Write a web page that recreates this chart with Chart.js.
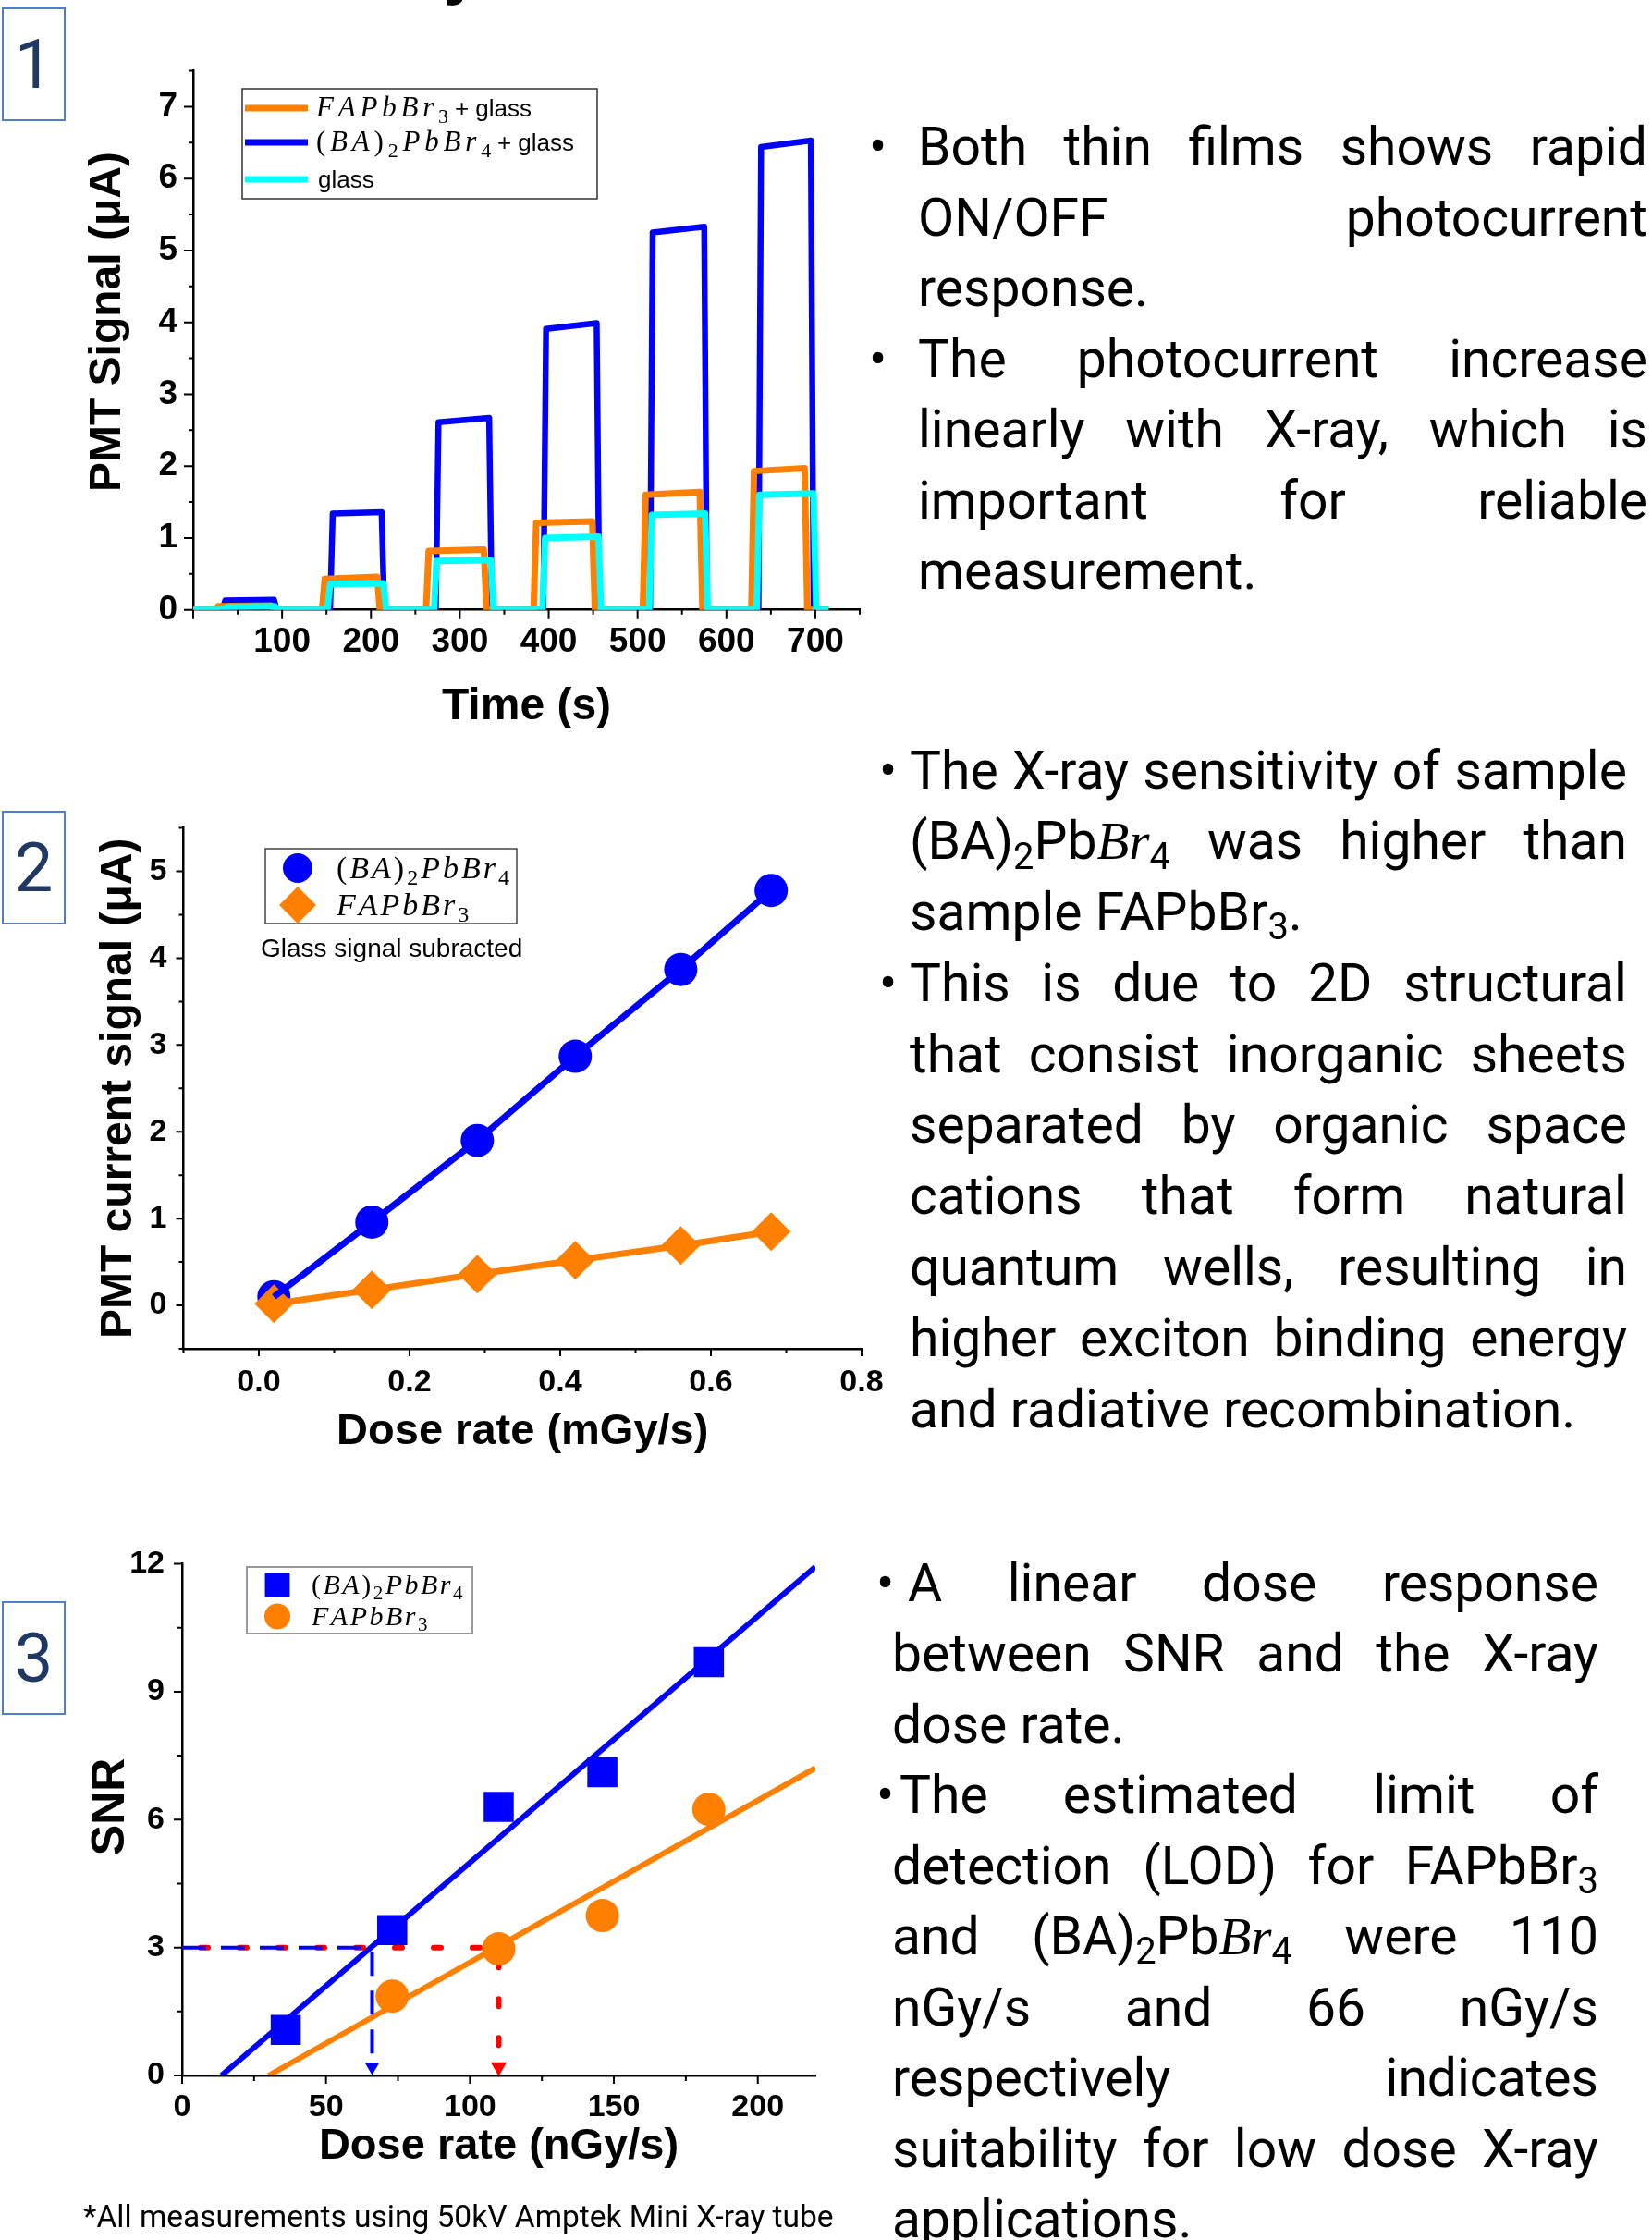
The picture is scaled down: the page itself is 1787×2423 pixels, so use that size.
<!DOCTYPE html>
<html>
<head>
<meta charset="utf-8">
<title>X-ray photocurrent response of perovskite thin films</title>
<script src="https://cdn.jsdelivr.net/npm/chart.js@4.4.1/dist/chart.umd.min.js"></script>
<style>
  html, body { margin: 0; padding: 0; background: #fff; }
  #page { position: relative; width: 1787px; height: 2423px; overflow: hidden; background: #fff; font-family: Roboto, sans-serif; }
  #page canvas { position: absolute; left: 0; }
  .tag { position: absolute; left: 2px; width: 69px; box-sizing: border-box; border: 2px solid #4f7fc8; color: #1f3864; font: 74px Roboto, sans-serif; text-align: center; z-index: 2; }
  .blk { position: absolute; font-size: 57px; color: #000; }
  .ln { position: relative; white-space: nowrap; }
  .ln.j { display: flex; justify-content: space-between; }
  .bul { position: absolute; }
  .m { font-family: "Liberation Serif", serif; font-style: italic; }
  .sb { font-size: 0.7em; position: relative; top: 0.26em; line-height: 0; }
  .note { position: absolute; left: 90px; top: 2378px; font: 33.5px Roboto, sans-serif; line-height: 40px; color: #000; }
  .cut { position: absolute; left: 480px; top: -68px; font: bold 70px "Liberation Sans", sans-serif; line-height: 1; }
</style>
</head>
<body>
<div id="page">
  <div class="cut">y</div>
  <canvas id="chartTime" width="960" height="800" style="top:0px"></canvas>
  <canvas id="chartDose" width="960" height="780" style="top:840px"></canvas>
  <canvas id="chartSnr" width="960" height="783" style="top:1640px"></canvas>
  <div class="tag" style="top:8px;height:123px;line-height:119px">1</div>
  <div class="tag" style="top:877px;height:123px;line-height:119px">2</div>
  <div class="tag" style="top:1732px;height:123px;line-height:119px">3</div>
  <div class="note">*All measurements using 50kV Amptek Mini X-ray tube</div>
</div>

<script>
// ---- Panel 1: PMT signal vs time, X-ray ON/OFF pulses ----
const timeStart = 0;
const timeEnd = 715;
const riseTime = 3;
const timeTicks = [100, 200, 300, 400, 500, 600, 700];
const signalTicks = [0, 1, 2, 3, 4, 5, 6, 7];

const faOn   = [25, 145, 262, 383, 506, 628];
const faOff  = [88, 207, 327, 449, 570, 688];
const faLvl0 = [0.05, 0.43, 0.82, 1.21, 1.60, 1.93];
const faLvl1 = [0.06, 0.46, 0.84, 1.23, 1.64, 1.97];

const baOn   = [33, 154, 273, 394, 514, 636];
const baOff  = [91, 212, 333, 454, 575, 695];
const baLvl0 = [0.13, 1.34, 2.61, 3.91, 5.25, 6.44];
const baLvl1 = [0.14, 1.36, 2.67, 3.99, 5.33, 6.53];

const glOn   = [35, 151, 271, 393, 513, 634];
const glOff  = [92, 214, 335, 456, 576, 698];
const glLvl0 = [0.04, 0.36, 0.68, 1.00, 1.32, 1.60];
const glLvl1 = [0.05, 0.37, 0.69, 1.02, 1.34, 1.62];

// ---- Panel 2: signal vs dose rate (glass subtracted) ----
const doseMGy  = [0.02, 0.15, 0.29, 0.42, 0.56, 0.68];
const signalBA = [0.10, 0.96, 1.90, 2.87, 3.87, 4.78];
const signalFA = [0.02, 0.18, 0.36, 0.52, 0.69, 0.85];
const doseMGyTicks = [0.0, 0.2, 0.4, 0.6, 0.8];
const currentTicks = [0, 1, 2, 3, 4, 5];

// ---- Panel 3: SNR vs dose rate ----
const doseBA = [36, 73, 110, 146, 183];
const snrBA  = [1.07, 3.41, 6.30, 7.11, 9.69];
const doseFA = [73, 110, 146, 183];
const snrFA  = [1.86, 2.97, 3.75, 6.24];
const fitBAx = [13.7, 220];
const fitBAy = [0, 11.93];
const fitFAx = [30.1, 220];
const fitFAy = [0, 7.21];
const lodSnr = 3;
const lodBA = 66;
const lodFA = 110;
const arrowEnd = 0.2;
const doseNGyTicks = [0, 50, 100, 150, 200];
const snrTicks = [0, 3, 6, 9, 12];

const BLUE = '#0000ff';
const ORANGE = '#ff8000';
const CYAN = '#00ffff';
const RED = '#ff0000';

Chart.defaults.animation = false;
Chart.defaults.color = '#000';

function toPts(xs, ys) {
  return xs.map((x, i) => ({ x: x, y: ys[i] }));
}

// square pulses built from on/off times and plateau levels
function stepTrace(on, off, lvl0, lvl1) {
  const pts = [{ x: timeStart, y: 0 }];
  on.forEach((t, i) => {
    pts.push({ x: t, y: 0 }, { x: t + riseTime, y: lvl0[i] },
             { x: off[i], y: lvl1[i] }, { x: off[i] + riseTime, y: 0 });
  });
  pts.push({ x: timeEnd, y: 0 });
  return pts;
}

function boldFont(size) {
  return { family: '"Liberation Sans", Arial, sans-serif', weight: 'bold', size: size };
}

function fixedX(h) {
  return s => { s.height = h; s.paddingLeft = 0; s.paddingRight = 0; };
}
function fixedY(w) {
  return s => { s.width = w; s.paddingTop = 0; s.paddingBottom = 0; };
}

function axis(o) {
  return {
    type: 'linear',
    min: o.min,
    max: o.max,
    border: { display: true, color: '#000', width: 2.5 },
    grid: { display: false, drawTicks: false },
    ticks: {
      autoSkip: false, maxRotation: 0, padding: o.pad, color: '#000',
      font: boldFont(o.tickSize), callback: o.label || (v => v)
    },
    afterBuildTicks: s => { s.ticks = o.values.map(v => ({ value: v })); },
    title: { display: true, text: o.title, color: '#000', font: boldFont(o.titleSize), padding: o.titlePad },
    afterFit: o.fit
  };
}

// major + minor tick marks drawn outward from the axis lines
const axisTicks = {
  id: 'axisTicks',
  afterDraw(chart, args, opts) {
    const ctx = chart.ctx;
    ctx.save();
    ctx.strokeStyle = '#000';
    ctx.lineWidth = opts.width;
    ctx.beginPath();
    ['x', 'y'].forEach(id => {
      const s = chart.scales[id];
      const o = opts[id];
      const n = Math.round((s.max - s.min) / o.minor);
      for (let i = 0; i <= n; i++) {
        const v = s.min + i * o.minor;
        if (v > s.max + 1e-9) break;
        const r = v / o.major;
        const len = Math.abs(r - Math.round(r)) < 1e-6 ? opts.majorLen : opts.minorLen;
        const p = s.getPixelForValue(v);
        if (id === 'x') { ctx.moveTo(p, s.top); ctx.lineTo(p, s.top + len); }
        else { ctx.moveTo(s.right, p); ctx.lineTo(s.right - len, p); }
      }
    });
    ctx.stroke();
    ctx.restore();
  }
};

function drawRich(ctx, parts, x, y, fonts) {
  parts.forEach(p => {
    const f = fonts[p.s];
    ctx.font = f.font;
    x += f.before || 0;
    for (const ch of p.t) {
      ctx.fillText(ch, x, y + (f.dy || 0));
      x += ctx.measureText(ch).width + (f.spacing || 0);
    }
  });
}

// framed legend with LaTeX-like labels
const boxLegend = {
  id: 'boxLegend',
  afterDraw(chart, args, opts) {
    const ctx = chart.ctx;
    const b = opts.box;
    ctx.save();
    ctx.fillStyle = '#fff';
    ctx.fillRect(b.x, b.y, b.w, b.h);
    ctx.strokeStyle = b.color;
    ctx.lineWidth = b.lineWidth;
    ctx.strokeRect(b.x, b.y, b.w, b.h);
    opts.items.forEach(item => {
      const ds = chart.data.datasets[item.dataset];
      if (item.marker === 'line') {
        ctx.strokeStyle = ds.borderColor;
        ctx.lineWidth = opts.lineWidth;
        ctx.beginPath();
        ctx.moveTo(opts.markerX[0], item.y);
        ctx.lineTo(opts.markerX[1], item.y);
        ctx.stroke();
      } else {
        ctx.fillStyle = ds.pointBackgroundColor;
        Chart.helpers.drawPoint(ctx, { pointStyle: item.marker, radius: item.radius, rotation: 0, borderWidth: 0 }, opts.markerX[0], item.y);
      }
      ctx.fillStyle = '#000';
      ctx.textBaseline = 'alphabetic';
      ctx.textAlign = 'left';
      drawRich(ctx, item.parts, opts.textX, item.y + opts.baseline, opts.fonts);
    });
    (opts.notes || []).forEach(n => {
      ctx.font = n.font;
      ctx.fillStyle = '#000';
      ctx.textBaseline = 'middle';
      ctx.fillText(n.text, n.x, n.y);
    });
    ctx.restore();
  }
};

function mathFonts(size, spacing, sansSize) {
  return {
    math: { font: 'italic ' + size + 'px "Liberation Serif"', spacing: spacing },
    up:   { font: size + 'px "Liberation Serif"', spacing: spacing },
    sub:  { font: Math.round(size * 0.7) + 'px "Liberation Serif"', dy: size * 0.22, spacing: spacing },
    sans: { font: sansSize + 'px "Liberation Sans"', spacing: 0, before: 2 }
  };
}
const labelBA = [{ s: 'up', t: '(' }, { s: 'math', t: 'BA' }, { s: 'up', t: ')' }, { s: 'sub', t: '2' }, { s: 'math', t: 'PbBr' }, { s: 'sub', t: '4' }];
const labelFA = [{ s: 'math', t: 'FAPbBr' }, { s: 'sub', t: '3' }];

// ---- Chart 1 ----
new Chart(document.getElementById('chartTime'), {
  type: 'scatter',
  data: {
    datasets: [
      { label: 'FAPbBr3 + glass', data: stepTrace(faOn, faOff, faLvl0, faLvl1), borderColor: ORANGE, borderWidth: 7, order: 2 },
      { label: '(BA)2PbBr4 + glass', data: stepTrace(baOn, baOff, baLvl0, baLvl1), borderColor: BLUE, borderWidth: 6.5, order: 3 },
      { label: 'glass', data: stepTrace(glOn, glOff, glLvl0, glLvl1), borderColor: CYAN, borderWidth: 7, order: 1 }
    ].map(d => Object.assign(d, { showLine: true, pointRadius: 0, tension: 0, borderJoinStyle: 'round' }))
  },
  options: {
    responsive: false,
    devicePixelRatio: 1,
    events: [],
    layout: { padding: { left: 0, right: 30, top: 76.5, bottom: 0 } },
    scales: {
      x: axis({ min: 0, max: 750, values: timeTicks, pad: 13, tickSize: 37, title: 'Time (s)', titleSize: 48,
                titlePad: { top: 0, bottom: 6 }, fit: fixedX(140.3) }),
      y: axis({ min: 0, max: 7.5, values: signalTicks, pad: 17, tickSize: 37, title: '   PMT Signal (μA)', titleSize: 48,
                titlePad: { top: 88, bottom: 0 }, fit: fixedY(209) })
    },
    plugins: {
      legend: { display: false },
      tooltip: { enabled: false },
      axisTicks: { x: { major: 100, minor: 50 }, y: { major: 1, minor: 0.5 }, majorLen: 10, minorLen: 5, width: 2 },
      boxLegend: {
        box: { x: 262, y: 96, w: 384, h: 119, color: '#333', lineWidth: 1.5 },
        markerX: [265, 333], textX: 342, baseline: 9, lineWidth: 7,
        fonts: mathFonts(31, 4.8, 26),
        items: [
          { dataset: 0, marker: 'line', y: 117, parts: labelFA.concat([{ s: 'sans', t: '+ glass' }]) },
          { dataset: 1, marker: 'line', y: 154, parts: labelBA.concat([{ s: 'sans', t: '+ glass' }]) },
          { dataset: 2, marker: 'line', y: 194, parts: [{ s: 'sans', t: 'glass' }] }
        ]
      }
    }
  },
  plugins: [axisTicks, boxLegend]
});

// ---- Chart 2 ----
new Chart(document.getElementById('chartDose'), {
  type: 'scatter',
  data: {
    datasets: [
      { label: '(BA)2PbBr4', data: toPts(doseMGy, signalBA), showLine: false, pointStyle: 'circle', pointRadius: 18,
        pointBackgroundColor: BLUE, pointBorderWidth: 0, order: 3 },
      { label: 'FAPbBr3', data: toPts(doseMGy, signalFA), showLine: true, borderColor: ORANGE, borderWidth: 7,
        pointStyle: 'rectRot', pointRadius: 21, pointBackgroundColor: ORANGE, pointBorderWidth: 0, order: 2 },
      { label: '(BA)2PbBr4 line', data: toPts(doseMGy, signalBA), showLine: true, borderColor: BLUE, borderWidth: 7,
        pointRadius: 0, order: 1 }
    ]
  },
  options: {
    responsive: false,
    devicePixelRatio: 1,
    events: [],
    layout: { padding: { left: 0, right: 28, top: 55.6, bottom: 0 } },
    scales: {
      x: axis({ min: -0.1, max: 0.8, values: doseMGyTicks, pad: 16, tickSize: 34, title: 'Dose rate (mGy/s)', titleSize: 47,
                titlePad: { top: 0, bottom: 43 }, label: v => v.toFixed(1), fit: fixedX(161) }),
      y: axis({ min: -0.5, max: 5.5, values: currentTicks, pad: 18, tickSize: 34, title: 'PMT current signal (μA)', titleSize: 48,
                titlePad: { top: 100, bottom: 0 }, fit: fixedY(198.5) })
    },
    plugins: {
      legend: { display: false },
      tooltip: { enabled: false },
      axisTicks: { x: { major: 0.2, minor: 0.1 }, y: { major: 1, minor: 0.5 }, majorLen: 8, minorLen: 5, width: 2 },
      boxLegend: {
        box: { x: 287, y: 78, w: 272, h: 81, color: '#444', lineWidth: 1.5 },
        markerX: [322], textX: 364, baseline: 11,
        fonts: mathFonts(34, 3, 28),
        items: [
          { dataset: 0, marker: 'circle', radius: 16, y: 99, parts: labelBA },
          { dataset: 1, marker: 'rectRot', radius: 20, y: 139, parts: labelFA }
        ],
        notes: [{ text: 'Glass signal subracted', x: 282, y: 187, font: '28px "Liberation Sans"' }]
      }
    }
  },
  plugins: [axisTicks, boxLegend]
});

// ---- Chart 3 ----
new Chart(document.getElementById('chartSnr'), {
  type: 'scatter',
  data: {
    datasets: [
      { label: '(BA)2PbBr4', data: toPts(doseBA, snrBA), pointStyle: 'rect', pointRadius: 23,
        pointBackgroundColor: BLUE, pointBorderWidth: 0, order: 0 },
      { label: 'FAPbBr3', data: toPts(doseFA, snrFA), pointStyle: 'circle', pointRadius: 18,
        pointBackgroundColor: ORANGE, pointBorderWidth: 0, order: 0 },
      { label: 'fit BA', data: toPts(fitBAx, fitBAy), showLine: true, borderColor: BLUE, borderWidth: 6, pointRadius: 0, order: 2 },
      { label: 'fit FA', data: toPts(fitFAx, fitFAy), showLine: true, borderColor: ORANGE, borderWidth: 6, pointRadius: 0, order: 2 },
      { label: 'LOD BA', data: [{ x: 0, y: lodSnr }, { x: lodBA, y: lodSnr }, { x: lodBA, y: arrowEnd }],
        showLine: true, borderColor: BLUE, borderWidth: 4, borderDash: [26, 16],
        pointRadius: [0, 0, 9], pointStyle: 'triangle', pointRotation: 180, pointBackgroundColor: BLUE, pointBorderWidth: 0, order: 1 },
      { label: 'LOD FA', data: [{ x: 0, y: lodSnr }, { x: lodFA, y: lodSnr }, { x: lodFA, y: arrowEnd }],
        showLine: true, borderColor: RED, borderWidth: 6, borderDash: [8, 34], borderCapStyle: 'round', borderDashOffset: -20,
        pointRadius: [0, 0, 10], pointStyle: 'triangle', pointRotation: 180, pointBackgroundColor: RED, pointBorderWidth: 0, order: 1 }
    ]
  },
  options: {
    responsive: false,
    devicePixelRatio: 1,
    events: [],
    layout: { padding: { left: 0, right: 78, top: 51.5, bottom: 0 } },
    scales: {
      x: axis({ min: 0, max: 220, values: doseNGyTicks, pad: 14, tickSize: 34, title: 'Dose rate (nGy/s)', titleSize: 47,
                titlePad: { top: 0, bottom: 73 }, fit: fixedX(178) }),
      y: axis({ min: 0, max: 12, values: snrTicks, pad: 19, tickSize: 34, title: '  SNR', titleSize: 50,
                titlePad: { top: 90, bottom: 0 }, fit: fixedY(197) })
    },
    plugins: {
      legend: { display: false },
      tooltip: { enabled: false },
      axisTicks: { x: { major: 50, minor: 25 }, y: { major: 3, minor: 1.5 }, majorLen: 9, minorLen: 6, width: 2 },
      boxLegend: {
        box: { x: 267, y: 55, w: 244, h: 72, color: '#999', lineWidth: 2 },
        markerX: [300], textX: 337, baseline: 9,
        fonts: mathFonts(30, 2.5, 26),
        items: [
          { dataset: 0, marker: 'rect', radius: 19, y: 74.5, parts: labelBA },
          { dataset: 1, marker: 'circle', radius: 14, y: 108.5, parts: labelFA }
        ]
      }
    }
  },
  plugins: [axisTicks, boxLegend]
});

// ---- Right-hand notes, one div per printed line ----
const BA_HTML = '(BA)<span class="sb">2</span>Pb<span class="m">Br</span><span class="sb">4</span>';
const FA_HTML = 'FAPbBr<span class="sb">3</span>';

const textBlocks = [
  { left: 993, top: 121, width: 789, step: 76.5, lines: [
    ['Both thin films shows rapid', true, -53],
    ['ON/OFF photocurrent', true],
    ['response.', false],
    ['The photocurrent increase', true, -53],
    ['linearly with X-ray, which is', true],
    ['important for reliable', true],
    ['measurement.', false]
  ] },
  { left: 984, top: 795.5, width: 776, step: 76.8, lines: [
    ['The X-ray sensitivity of sample', true, -33],
    [BA_HTML + ' was higher than', true],
    ['sample ' + FA_HTML + '.', false],
    ['This is due to 2D structural', true, -33],
    ['that consist inorganic sheets', true],
    ['separated by organic space', true],
    ['cations that form natural', true],
    ['quantum wells, resulting in', true],
    ['higher exciton binding energy', true],
    ['and radiative recombination.', false]
  ] },
  { left: 965, top: 1674.5, width: 764, step: 76.5, lines: [
    ['A linear dose response', true, -17, 17],
    ['between SNR and the X-ray', true],
    ['dose rate.', false],
    ['The estimated limit of', true, -17, 8],
    ['detection (LOD) for ' + FA_HTML, true],
    ['and ' + BA_HTML + ' were 110', true],
    ['nGy/s and 66 nGy/s', true],
    ['respectively indicates', true],
    ['suitability for low dose X-ray', true],
    ['applications.', false]
  ] }
];

const page = document.getElementById('page');
textBlocks.forEach(b => {
  const blk = document.createElement('div');
  blk.className = 'blk';
  blk.style.left = b.left + 'px';
  blk.style.top = b.top + 'px';
  blk.style.width = b.width + 'px';
  b.lines.forEach(([html, justify, bullet, indent]) => {
    const ln = document.createElement('div');
    ln.className = justify ? 'ln j' : 'ln';
    ln.style.height = b.step + 'px';
    ln.style.lineHeight = b.step + 'px';
    if (indent) ln.style.paddingLeft = indent + 'px';
    // split on spaces outside of tags so words spread across the line
    ln.innerHTML = justify ? html.split(/ (?![^<]*>)/).map(w => '<span>' + w + '</span>').join('') : html;
    if (bullet !== undefined) {
      const bul = document.createElement('span');
      bul.className = 'bul';
      bul.style.left = bullet + 'px';
      bul.textContent = '•';
      ln.appendChild(bul);
    }
    blk.appendChild(ln);
  });
  page.appendChild(blk);
});
</script>
</body>
</html>
